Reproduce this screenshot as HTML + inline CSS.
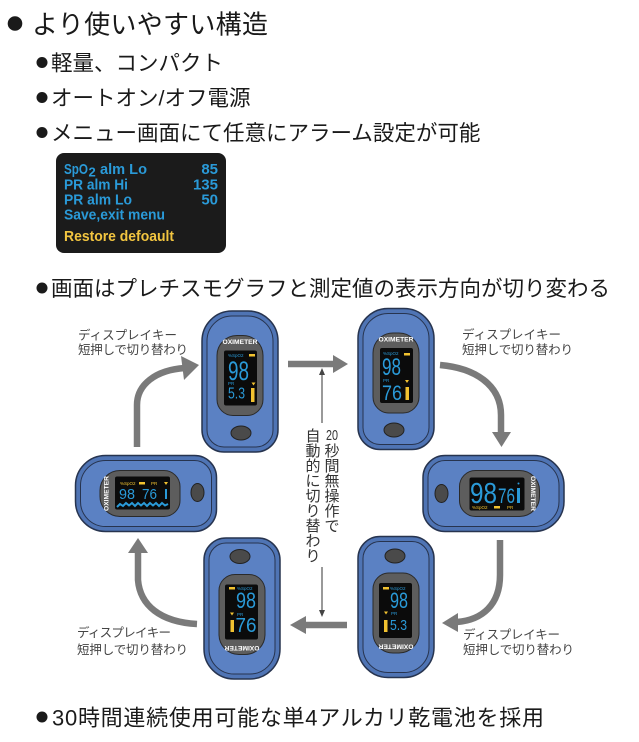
<!DOCTYPE html>
<html><head><meta charset="utf-8">
<style>
html,body{margin:0;padding:0;background:#fff;}
svg{display:block;}
</style></head><body>
<svg width="639" height="742" viewBox="0 0 639 742" xmlns="http://www.w3.org/2000/svg">

<!-- Headings -->
<g font-family="'Liberation Sans','Noto Sans CJK JP',sans-serif" fill="#1a1a1a">
  <circle cx="15" cy="23.5" r="7.3"/>
  <text x="32" y="33.4" font-size="26" textLength="236">より使いやすい構造</text>
  <circle cx="42" cy="62.5" r="5.5"/>
  <text x="51" y="70.7" font-size="21.5">軽量、コンパクト</text>
  <circle cx="42" cy="97.5" r="5.5"/>
  <text x="51" y="105.7" font-size="21.5">オートオン/オフ電源</text>
  <circle cx="42" cy="132.5" r="5.5"/>
  <text x="51" y="140.7" font-size="21.5">メニュー画面にて任意にアラーム設定が可能</text>
  <circle cx="42" cy="288" r="5.5"/>
  <text x="51" y="296.2" font-size="21.5">画面はプレチスモグラフと測定値の表示方向が切り変わる</text>
  <circle cx="42" cy="717" r="5.5"/>
  <text x="52" y="725.4" font-size="22" textLength="492">30時間連続使用可能な単4アルカリ乾電池を採用</text>
</g>

<!-- Menu box -->
<rect x="56" y="153" width="170" height="100" rx="8" fill="#1b1b1b"/>
<g font-family="'Liberation Sans',sans-serif" font-weight="bold" font-size="15" fill="#2a9ad8">
  <text x="64" y="174" textLength="24" lengthAdjust="spacingAndGlyphs">SpO</text>
  <text x="88.5" y="176.5" font-size="13">2</text>
  <text x="100" y="174" textLength="47" lengthAdjust="spacingAndGlyphs">alm Lo</text>
  <text x="218" y="174" text-anchor="end">85</text>
  <text x="64" y="189.5" textLength="64" lengthAdjust="spacingAndGlyphs">PR alm Hi</text>
  <text x="218" y="189.5" text-anchor="end">135</text>
  <text x="64" y="204.5" textLength="68" lengthAdjust="spacingAndGlyphs">PR alm Lo</text>
  <text x="218" y="204.5" text-anchor="end">50</text>
  <text x="64" y="219.5" textLength="101" lengthAdjust="spacingAndGlyphs">Save,exit menu</text>
  <text x="64" y="241" fill="#f2c540" textLength="110" lengthAdjust="spacingAndGlyphs">Restore defoault</text>
</g>

<!-- Arrows -->
<g stroke="#7a7a7a" stroke-width="6.5" fill="none">
  <path d="M288,364 H335"/>
  <path d="M304,625 H347"/>
  <path d="M137,447 L137,405 C137,385 155,370 185,368"/>
  <path d="M440,365 C475,368 501,385 501,415 L501,434"/>
  <path d="M138,551 L138,580 C140,605 160,622 197,624"/>
  <path d="M500,540 L500,575 C500,605 482,620 457,622"/>
</g>
<g fill="#7a7a7a">
  <polygon points="333,355 348,364 333,373"/>
  <polygon points="306,616 290,625 306,634"/>
  <polygon points="199,365 181,356 184,380"/>
  <polygon points="492,432 511,432 501.5,447"/>
  <polygon points="128,553 148,553 138,538"/>
  <polygon points="458,613 458,632 442,623"/>
</g>

<!-- thin vertical double arrow -->
<g stroke="#555" stroke-width="1.2">
  <line x1="322" y1="373" x2="322" y2="423"/>
  <line x1="322" y1="567" x2="322" y2="612"/>
</g>
<g fill="#444">
  <polygon points="319,375 325,375 322,368"/>
  <polygon points="319,610 325,610 322,617"/>
</g>

<!-- vertical text -->
<g font-family="'Liberation Sans','Noto Sans CJK JP',sans-serif" font-size="15" fill="#333" text-anchor="middle">
  <text x="332" y="440" textLength="12" lengthAdjust="spacingAndGlyphs">20</text>
  <text x="332" y="456.2">秒</text>
  <text x="332" y="471.2">間</text>
  <text x="332" y="486.2">無</text>
  <text x="332" y="501.2">操</text>
  <text x="332" y="516.2">作</text>
  <text x="332" y="531.2">で</text>
  <text x="313" y="441.2">自</text>
  <text x="313" y="456.2">動</text>
  <text x="313" y="471.2">的</text>
  <text x="313" y="486.2">に</text>
  <text x="313" y="501.2">切</text>
  <text x="313" y="516.2">り</text>
  <text x="313" y="531.2">替</text>
  <text x="313" y="546.2">わ</text>
  <text x="313" y="561.2">り</text>
</g>

<!-- Labels -->
<g font-family="'Liberation Sans','Noto Sans CJK JP',sans-serif" font-size="12.5" fill="#444">
  <text x="78" y="339.5" textLength="99">ディスプレイキー</text>
  <text x="78" y="354" textLength="110">短押しで切り替わり</text>
  <text x="462" y="339" textLength="99">ディスプレイキー</text>
  <text x="462" y="354" textLength="111">短押しで切り替わり</text>
  <text x="77" y="637" textLength="94">ディスプレイキー</text>
  <text x="77" y="654" textLength="111">短押しで切り替わり</text>
  <text x="463" y="639" textLength="97">ディスプレイキー</text>
  <text x="463" y="654" textLength="111">短押しで切り替わり</text>
</g>

<!-- Device: top-left -->
<g transform="translate(240,381.5)">
 <path d="M-8,-70.5 H8 A30,30 0 0 1 38,-40.5 V48.5 A22,22 0 0 1 16,70.5 H-16 A22,22 0 0 1 -38,48.5 V-40.5 A30,30 0 0 1 -8,-70.5 Z" fill="#4f74b4" stroke="#27344f" stroke-width="1.5"/>
 <path d="M-8,-65.5 H8 A25,25 0 0 1 33,-40.5 V48.5 A17,17 0 0 1 16,65.5 H-16 A17,17 0 0 1 -33,48.5 V-40.5 A25,25 0 0 1 -8,-65.5 Z" fill="#5b81c3" stroke="#27344f" stroke-width="1"/>
 <path d="M-3,-46 H3 A20,20 0 0 1 23,-26 V18 A16,16 0 0 1 7,34 H-7 A16,16 0 0 1 -23,18 V-26 A20,20 0 0 1 -3,-46 Z" fill="#5d5d5d" stroke="#2a2a2a" stroke-width="1"/>
 <rect x="-16" y="-31" width="33" height="55" rx="2" fill="#0b0b0b"/>
 <text x="0" y="-37.5" text-anchor="middle" font-family="'Liberation Sans',sans-serif" font-weight="bold" font-size="6.5" fill="#fff" textLength="35" lengthAdjust="spacingAndGlyphs">OXIMETER</text>
 <ellipse cx="1" cy="51.5" rx="10" ry="7" fill="#4a4a4a" stroke="#222" stroke-width="1"/>
</g>
<g font-family="'Liberation Sans',sans-serif" fill="#2a9ad8">
  <text x="228" y="357" font-size="4.5">%SpO2</text>
  <rect x="249" y="354" width="6" height="2.5" fill="#f2c230"/>
  <text x="228" y="380" font-size="27" textLength="21" lengthAdjust="spacingAndGlyphs">98</text>
  <text x="228" y="385" font-size="4.5">PR</text>
  <polygon points="251.5,382.5 255.5,382.5 253.5,385.5" fill="#f2c230"/>
  <text x="228" y="398.5" font-size="15.5" textLength="17" lengthAdjust="spacingAndGlyphs">5.3</text>
  <rect x="251" y="388" width="3.5" height="14" fill="#f2c230"/>
</g>

<!-- Device: top-right -->
<g transform="translate(396,379)">
 <path d="M-8,-70.5 H8 A30,30 0 0 1 38,-40.5 V48.5 A22,22 0 0 1 16,70.5 H-16 A22,22 0 0 1 -38,48.5 V-40.5 A30,30 0 0 1 -8,-70.5 Z" fill="#4f74b4" stroke="#27344f" stroke-width="1.5"/>
 <path d="M-8,-65.5 H8 A25,25 0 0 1 33,-40.5 V48.5 A17,17 0 0 1 16,65.5 H-16 A17,17 0 0 1 -33,48.5 V-40.5 A25,25 0 0 1 -8,-65.5 Z" fill="#5b81c3" stroke="#27344f" stroke-width="1"/>
 <path d="M-3,-46 H3 A20,20 0 0 1 23,-26 V18 A16,16 0 0 1 7,34 H-7 A16,16 0 0 1 -23,18 V-26 A20,20 0 0 1 -3,-46 Z" fill="#5d5d5d" stroke="#2a2a2a" stroke-width="1"/>
 <rect x="-16" y="-31" width="33" height="55" rx="2" fill="#0b0b0b"/>
 <text x="0" y="-37.5" text-anchor="middle" font-family="'Liberation Sans',sans-serif" font-weight="bold" font-size="6.5" fill="#fff" textLength="35" lengthAdjust="spacingAndGlyphs">OXIMETER</text>
 <ellipse cx="-2" cy="51" rx="10" ry="7" fill="#4a4a4a" stroke="#222" stroke-width="1"/>
</g>
<g font-family="'Liberation Sans',sans-serif" fill="#2a9ad8">
  <text x="383" y="355" font-size="4.5">%SpO2</text>
  <rect x="404" y="353" width="6" height="2.5" fill="#f2c230"/>
  <text x="382" y="375" font-size="24" textLength="19" lengthAdjust="spacingAndGlyphs">98</text>
  <text x="383" y="382" font-size="4.5">PR</text>
  <polygon points="405,380 409,380 407,383" fill="#f2c230"/>
  <text x="382" y="400" font-size="21" textLength="20" lengthAdjust="spacingAndGlyphs">76</text>
  <rect x="405.5" y="387" width="3.5" height="13" fill="#f2c230"/>
</g>

<!-- Device: left horizontal -->
<g transform="translate(146,493.5) rotate(-90)">
 <path d="M-8,-70.5 H8 A30,30 0 0 1 38,-40.5 V48.5 A22,22 0 0 1 16,70.5 H-16 A22,22 0 0 1 -38,48.5 V-40.5 A30,30 0 0 1 -8,-70.5 Z" fill="#4f74b4" stroke="#27344f" stroke-width="1.5"/>
 <path d="M-8,-65.5 H8 A25,25 0 0 1 33,-40.5 V48.5 A17,17 0 0 1 16,65.5 H-16 A17,17 0 0 1 -33,48.5 V-40.5 A25,25 0 0 1 -8,-65.5 Z" fill="#5b81c3" stroke="#27344f" stroke-width="1"/>
 <path d="M-3,-46 H3 A20,20 0 0 1 23,-26 V18 A16,16 0 0 1 7,34 H-7 A16,16 0 0 1 -23,18 V-26 A20,20 0 0 1 -3,-46 Z" fill="#5d5d5d" stroke="#2a2a2a" stroke-width="1"/>
 <rect x="-16" y="-31" width="33" height="55" rx="2" fill="#0b0b0b"/>
 <text x="0" y="-37.5" text-anchor="middle" font-family="'Liberation Sans',sans-serif" font-weight="bold" font-size="6.5" fill="#fff" textLength="35" lengthAdjust="spacingAndGlyphs">OXIMETER</text>
 <ellipse cx="1" cy="51.5" rx="9" ry="6.5" fill="#4a4a4a" stroke="#222" stroke-width="1"/>
</g>
<g font-family="'Liberation Sans',sans-serif" fill="#2a9ad8">
  <g fill="#f2c230">
    <text x="120" y="485" font-size="4.5">%SpO2</text>
    <rect x="139" y="482" width="6" height="2.5"/>
    <text x="151" y="485" font-size="4.5">PR</text>
    <polygon points="164,482 168,482 166,485"/>
  </g>
  <text x="119" y="499" font-size="15" textLength="16" lengthAdjust="spacingAndGlyphs">98</text>
  <text x="142" y="499" font-size="15" textLength="15" lengthAdjust="spacingAndGlyphs">76</text>
  <rect x="165" y="489" width="2" height="10"/>
  <path d="M117,507 L120,504 L123,506 L126,503 L129,505.5 L132,503 L135,506 L138,503 L141,505.5 L144,503 L147,506 L150,503 L153,505.5 L156,503 L159,506 L162,503 L165,505.5 L168,504" fill="none" stroke="#2a9ad8" stroke-width="2"/>
</g>

<!-- Device: right horizontal -->
<g transform="translate(493.5,493.5) rotate(90)">
 <path d="M-8,-70.5 H8 A30,30 0 0 1 38,-40.5 V48.5 A22,22 0 0 1 16,70.5 H-16 A22,22 0 0 1 -38,48.5 V-40.5 A30,30 0 0 1 -8,-70.5 Z" fill="#4f74b4" stroke="#27344f" stroke-width="1.5"/>
 <path d="M-8,-65.5 H8 A25,25 0 0 1 33,-40.5 V48.5 A17,17 0 0 1 16,65.5 H-16 A17,17 0 0 1 -33,48.5 V-40.5 A25,25 0 0 1 -8,-65.5 Z" fill="#5b81c3" stroke="#27344f" stroke-width="1"/>
 <path d="M-3,-46 H3 A20,20 0 0 1 23,-26 V18 A16,16 0 0 1 7,34 H-7 A16,16 0 0 1 -23,18 V-26 A20,20 0 0 1 -3,-46 Z" fill="#5d5d5d" stroke="#2a2a2a" stroke-width="1"/>
 <rect x="-16" y="-31" width="33" height="55" rx="2" fill="#0b0b0b"/>
 <text x="0" y="-37.5" text-anchor="middle" font-family="'Liberation Sans',sans-serif" font-weight="bold" font-size="6.5" fill="#fff" textLength="35" lengthAdjust="spacingAndGlyphs">OXIMETER</text>
 <ellipse cx="0" cy="52" rx="9" ry="6.5" fill="#4a4a4a" stroke="#222" stroke-width="1"/>
</g>
<g font-family="'Liberation Sans',sans-serif" fill="#2a9ad8">
  <text x="470" y="503" font-size="29" textLength="27" lengthAdjust="spacingAndGlyphs">98</text>
  <text x="498" y="503" font-size="21" textLength="17" lengthAdjust="spacingAndGlyphs">76</text>
  <rect x="517" y="488" width="3" height="15"/>
  <circle cx="518.5" cy="483.5" r="1"/>
  <g fill="#f2c230">
    <text x="472" y="509" font-size="4.5">%SpO2</text>
    <rect x="494" y="506" width="6" height="2.5"/>
    <text x="507" y="509" font-size="4.5">PR</text>
  </g>
</g>

<!-- Device: bottom-left -->
<g transform="translate(242,608.5) rotate(180)">
 <path d="M-8,-70.5 H8 A30,30 0 0 1 38,-40.5 V48.5 A22,22 0 0 1 16,70.5 H-16 A22,22 0 0 1 -38,48.5 V-40.5 A30,30 0 0 1 -8,-70.5 Z" fill="#4f74b4" stroke="#27344f" stroke-width="1.5"/>
 <path d="M-8,-65.5 H8 A25,25 0 0 1 33,-40.5 V48.5 A17,17 0 0 1 16,65.5 H-16 A17,17 0 0 1 -33,48.5 V-40.5 A25,25 0 0 1 -8,-65.5 Z" fill="#5b81c3" stroke="#27344f" stroke-width="1"/>
 <path d="M-3,-46 H3 A20,20 0 0 1 23,-26 V18 A16,16 0 0 1 7,34 H-7 A16,16 0 0 1 -23,18 V-26 A20,20 0 0 1 -3,-46 Z" fill="#5d5d5d" stroke="#2a2a2a" stroke-width="1"/>
 <rect x="-16" y="-31" width="33" height="55" rx="2" fill="#0b0b0b"/>
 <text x="0" y="-37.5" text-anchor="middle" font-family="'Liberation Sans',sans-serif" font-weight="bold" font-size="6.5" fill="#fff" textLength="35" lengthAdjust="spacingAndGlyphs">OXIMETER</text>
 <ellipse cx="2" cy="52" rx="10" ry="7" fill="#4a4a4a" stroke="#222" stroke-width="1"/>
</g>
<g font-family="'Liberation Sans',sans-serif" fill="#2a9ad8">
  <rect x="229" y="587" width="6" height="2.5" fill="#f2c230"/>
  <text x="237" y="590" font-size="4.5">%SpO2</text>
  <text x="236" y="608" font-size="22" textLength="20" lengthAdjust="spacingAndGlyphs">98</text>
  <polygon points="230,612.5 234,612.5 232,615.5" fill="#f2c230"/>
  <text x="237" y="616" font-size="4.5">PR</text>
  <rect x="230.5" y="620" width="3.5" height="12" fill="#f2c230"/>
  <text x="235.5" y="632" font-size="20" textLength="21" lengthAdjust="spacingAndGlyphs">76</text>
</g>

<!-- Device: bottom-right -->
<g transform="translate(396,607) rotate(180)">
 <path d="M-8,-70.5 H8 A30,30 0 0 1 38,-40.5 V48.5 A22,22 0 0 1 16,70.5 H-16 A22,22 0 0 1 -38,48.5 V-40.5 A30,30 0 0 1 -8,-70.5 Z" fill="#4f74b4" stroke="#27344f" stroke-width="1.5"/>
 <path d="M-8,-65.5 H8 A25,25 0 0 1 33,-40.5 V48.5 A17,17 0 0 1 16,65.5 H-16 A17,17 0 0 1 -33,48.5 V-40.5 A25,25 0 0 1 -8,-65.5 Z" fill="#5b81c3" stroke="#27344f" stroke-width="1"/>
 <path d="M-3,-46 H3 A20,20 0 0 1 23,-26 V18 A16,16 0 0 1 7,34 H-7 A16,16 0 0 1 -23,18 V-26 A20,20 0 0 1 -3,-46 Z" fill="#5d5d5d" stroke="#2a2a2a" stroke-width="1"/>
 <rect x="-16" y="-31" width="33" height="55" rx="2" fill="#0b0b0b"/>
 <text x="0" y="-37.5" text-anchor="middle" font-family="'Liberation Sans',sans-serif" font-weight="bold" font-size="6.5" fill="#fff" textLength="35" lengthAdjust="spacingAndGlyphs">OXIMETER</text>
 <ellipse cx="1" cy="51" rx="10" ry="7" fill="#4a4a4a" stroke="#222" stroke-width="1"/>
</g>
<g font-family="'Liberation Sans',sans-serif" fill="#2a9ad8">
  <rect x="383" y="587" width="6" height="2.5" fill="#f2c230"/>
  <text x="390" y="590" font-size="4.5">%SpO2</text>
  <text x="390" y="608" font-size="22" textLength="18" lengthAdjust="spacingAndGlyphs">98</text>
  <polygon points="384,611.5 388,611.5 386,614.5" fill="#f2c230"/>
  <text x="391" y="615" font-size="4.5">PR</text>
  <rect x="384" y="620" width="3.5" height="12" fill="#f2c230"/>
  <text x="390" y="630" font-size="15" textLength="17" lengthAdjust="spacingAndGlyphs">5.3</text>
</g>

</svg>
</body></html>
